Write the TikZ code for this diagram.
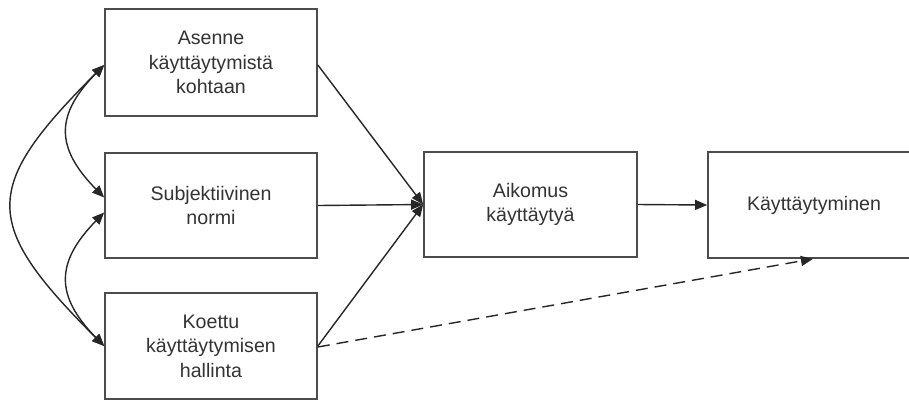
\documentclass[tikz,border=0pt]{standalone}
\usepackage{fontspec}
\setmainfont{Liberation Sans}
\usetikzlibrary{arrows.meta,calc}
\begin{document}
\begin{tikzpicture}[x=1pt,y=-1pt,
  boxnode/.style={draw=black!70, line width=1.7pt, rectangle, minimum width=212pt,
    minimum height=106pt, align=center, text=black!80,
    font=\fontsize{19.6}{24.5}\selectfont, inner sep=0pt},
  conn/.style={draw=black!85, line width=1.4pt, -{Triangle[length=12pt,width=10pt]}},
  biarrow/.style={draw=black!85, line width=1.4pt,
    {Triangle[length=12pt,width=10pt]}-{Triangle[length=12pt,width=10pt]}}]
\useasboundingbox (0,0) rectangle (909,400);
\clip (0,0) rectangle (909,400);
\node[boxnode, minimum height=107pt] (b1) at (211,62.5) {Asenne\\käyttäytymistä\\kohtaan};
\node[boxnode, minimum height=105pt] (b2) at (211,205.5) {Subjektiivinen\\normi};
\node[boxnode] (b3) at (211,346) {Koettu\\käyttäytymisen\\hallinta};
\node[boxnode, minimum width=213pt, minimum height=105pt] (b4) at (530.5,204.5) {Aikomus\\käyttäytyä};
\node[boxnode] (b5) at (814,205) {Käyttäytyminen};
\coordinate (t4) at (b4.west);
\coordinate (t5) at ($(b5.south west)!0.495!(b5.south east)$);
% converging arrows
\draw[conn] ([yshift=-2.5pt]b1.east) -- (t4);
\draw[conn] (b2.east) -- (t4);
\draw[conn] (b3.east) -- (t4);
\draw[conn] (b4.east) -- (b5.west);
\draw[conn, dashed, dash pattern=on 12pt off 7pt] ([yshift=-1pt]b3.east) -- (t5);
% correlations on the left
\draw[biarrow] ([yshift=-2.5pt]b1.west) .. controls +(-123,123) and +(-123,-123) .. (b3.west);
\draw[biarrow] ([yshift=-2.5pt]b1.west) .. controls +(-49,50) and +(-49,-50) .. ([yshift=8pt]b2.west);
\draw[biarrow] ([yshift=-7pt]b2.west) .. controls +(-49,50) and +(-49,-50) .. (b3.west);
\end{tikzpicture}
\end{document}
